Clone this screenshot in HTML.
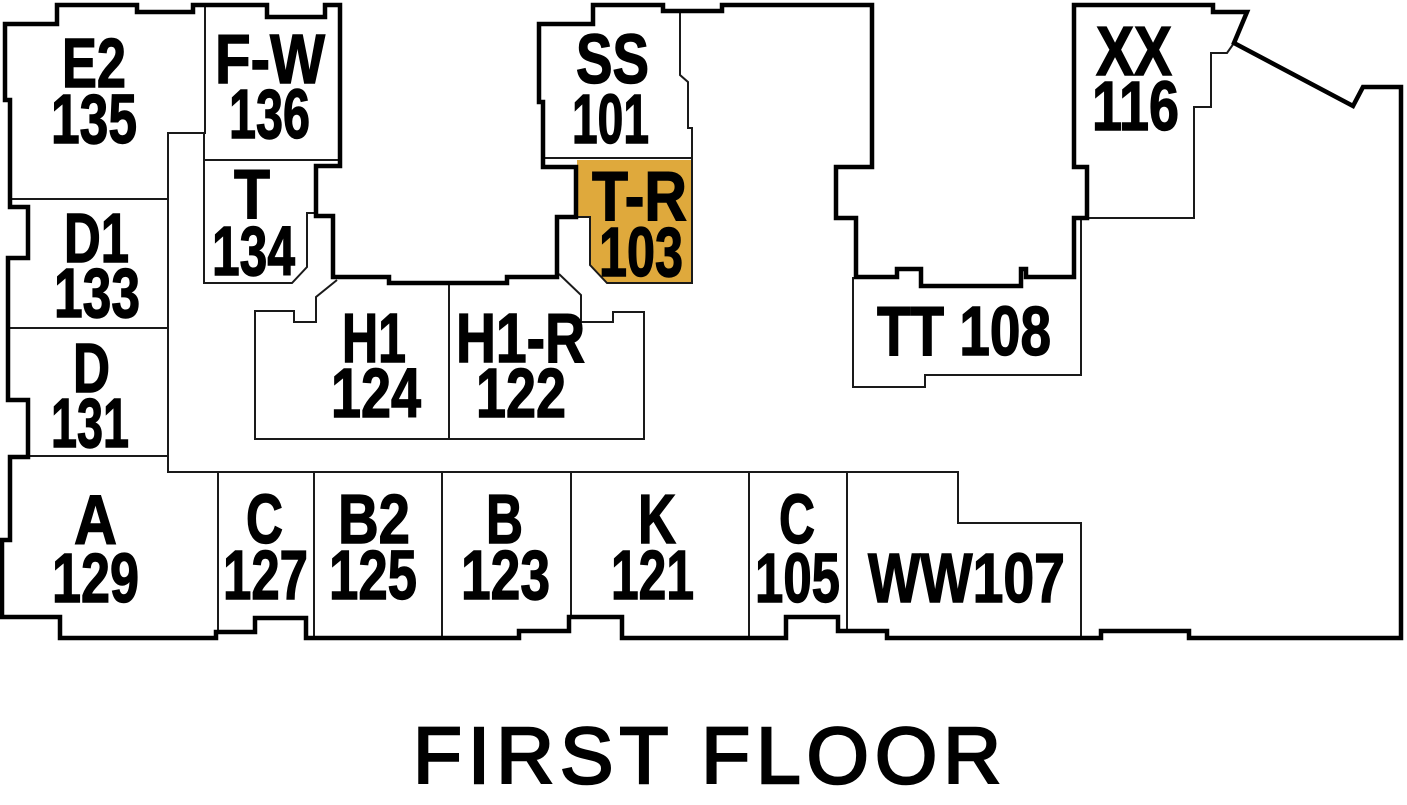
<!DOCTYPE html>
<html>
<head>
<meta charset="utf-8">
<style>
html,body{margin:0;padding:0;background:#fff;}
svg{display:block;}
.lb{font-family:"Liberation Sans",Arial,sans-serif;font-weight:bold;font-size:70px;fill:#000;stroke:#000;stroke-width:1.4px;}
.tt{font-family:"Liberation Sans",Arial,sans-serif;font-weight:normal;font-size:80px;fill:#000;stroke:#000;stroke-width:2.6px;}
</style>
</head>
<body>
<svg width="1407" height="805" viewBox="0 0 1407 805" xmlns="http://www.w3.org/2000/svg">
<rect width="1407" height="805" fill="#fff"/>

<!-- T-R highlighted unit -->
<polygon points="577,160 692,160 692,283 607,283 590,265 590,217 577,217" fill="#DFA93C"/>

<!-- thin interior lines -->
<g fill="none" stroke="#1a1a1a" stroke-width="2" stroke-linejoin="miter">
  <polyline points="205,5 205,133 168,133 168,472 958,472 958,523 1081,523 1081,638"/>
  <line x1="12" y1="199" x2="168" y2="199"/>
  <line x1="10" y1="328" x2="168" y2="328"/>
  <line x1="28" y1="456" x2="168" y2="456"/>
  <line x1="204" y1="160" x2="340" y2="160"/>
  <polyline points="204,133 204,283 292,283 307,267 307,213 316,213"/>
  <line x1="218" y1="472" x2="218" y2="632"/>
  <line x1="314" y1="472" x2="314" y2="638"/>
  <line x1="442" y1="472" x2="442" y2="638"/>
  <line x1="571" y1="472" x2="571" y2="617"/>
  <line x1="749" y1="472" x2="749" y2="638"/>
  <line x1="847" y1="472" x2="847" y2="631"/>
  <polyline points="337,280 316,297 316,322 294,322 294,311 255,311 255,439 644,439 644,312 613,312 613,322 581,322 581,295 559,274"/>
  <line x1="449" y1="283" x2="449" y2="439"/>
  <line x1="543" y1="158" x2="692" y2="158"/>
  <polyline points="680,11 680,75 688,82 688,128 692,128 692,283 607,283 590,265 590,217 577,217"/>
  <polyline points="853,277 853,387 925,387 925,375 1081,375 1081,218"/>
  <polyline points="1087,218 1194,218 1194,137 1194,137 1194,107 1211,107 1211,53 1227,53 1234,43"/>
</g>

<!-- thick outer outline -->
<path fill="none" stroke="#000" stroke-width="4.5" stroke-linejoin="miter"
 d="M57,5 L137,5 L137,12 L193,12 L193,5 L267,5 L267,17 L325,17 L325,5 L340,5 L340,166 L316,166 L316,216 L333,216 L333,277 L389,277 L389,283 L507,283 L507,277 L557,277 L557,217 L576,217 L576,167 L543,167 L543,102 L539,102 L539,24 L593,24 L593,5 L663,5 L663,11 L722,11 L722,5 L872,5 L872,167 L836,167 L836,218 L856,218 L856,277 L897,277 L897,269 L921,269 L921,286 L1021,286 L1021,269 L1026,269 L1026,277 L1074,277 L1074,218 L1087,218 L1087,167 L1074,167 L1074,5 L1213,5 L1213,12 L1247,12 L1234,43 L1353,106 L1363,87 L1401,87 L1401,638 L1189,638 L1189,631 L1101,631 L1101,638 L887,638 L887,631 L838,631 L838,617 L786,617 L786,638 L622,638 L622,617 L569,617 L569,631 L519,631 L519,638 L306,638 L306,618 L255,618 L255,632 L216,632 L216,638 L60,638 L60,617 L2,617 L2,540 L10,540 L10,457 L28,457 L28,400 L8,400 L8,258 L28,258 L28,207 L10,207 L10,100 L5,100 L5,24 L57,24 Z"/>

<!-- unit labels -->
<g class="lb">
  <text x="62" y="87" textLength="64" lengthAdjust="spacingAndGlyphs">E2</text>
  <text x="51" y="143" textLength="86" lengthAdjust="spacingAndGlyphs">135</text>
  <text x="215" y="83" textLength="110" lengthAdjust="spacingAndGlyphs">F-W</text>
  <text x="229" y="138" textLength="81" lengthAdjust="spacingAndGlyphs">136</text>
  <text x="234" y="218" textLength="36" lengthAdjust="spacingAndGlyphs">T</text>
  <text x="212" y="275" textLength="83" lengthAdjust="spacingAndGlyphs">134</text>
  <text x="64" y="262" textLength="65" lengthAdjust="spacingAndGlyphs">D1</text>
  <text x="54" y="317" textLength="86" lengthAdjust="spacingAndGlyphs">133</text>
  <text x="73" y="392" textLength="37" lengthAdjust="spacingAndGlyphs">D</text>
  <text x="51" y="447" textLength="78" lengthAdjust="spacingAndGlyphs">131</text>
  <text x="74" y="544" textLength="43" lengthAdjust="spacingAndGlyphs">A</text>
  <text x="52" y="602" textLength="87" lengthAdjust="spacingAndGlyphs">129</text>
  <text x="576" y="83" textLength="73" lengthAdjust="spacingAndGlyphs">SS</text>
  <text x="572" y="143" textLength="77" lengthAdjust="spacingAndGlyphs">101</text>
  <text x="592" y="220" textLength="95" lengthAdjust="spacingAndGlyphs">T-R</text>
  <text x="599" y="276" textLength="84" lengthAdjust="spacingAndGlyphs">103</text>
  <text x="1096" y="75" textLength="76" lengthAdjust="spacingAndGlyphs">XX</text>
  <text x="1092" y="130" textLength="87" lengthAdjust="spacingAndGlyphs">116</text>
  <text x="877" y="355" textLength="174" lengthAdjust="spacingAndGlyphs">TT 108</text>
  <text x="342" y="362" textLength="64" lengthAdjust="spacingAndGlyphs">H1</text>
  <text x="331" y="417" textLength="90" lengthAdjust="spacingAndGlyphs">124</text>
  <text x="456" y="362" textLength="129" lengthAdjust="spacingAndGlyphs">H1-R</text>
  <text x="476" y="417" textLength="90" lengthAdjust="spacingAndGlyphs">122</text>
  <text x="246" y="543" textLength="37" lengthAdjust="spacingAndGlyphs">C</text>
  <text x="223" y="599" textLength="85" lengthAdjust="spacingAndGlyphs">127</text>
  <text x="338" y="543" textLength="72" lengthAdjust="spacingAndGlyphs">B2</text>
  <text x="329" y="599" textLength="88" lengthAdjust="spacingAndGlyphs">125</text>
  <text x="486" y="543" textLength="37" lengthAdjust="spacingAndGlyphs">B</text>
  <text x="461" y="599" textLength="89" lengthAdjust="spacingAndGlyphs">123</text>
  <text x="638" y="543" textLength="38" lengthAdjust="spacingAndGlyphs">K</text>
  <text x="611" y="599" textLength="83" lengthAdjust="spacingAndGlyphs">121</text>
  <text x="779" y="543" textLength="36" lengthAdjust="spacingAndGlyphs">C</text>
  <text x="755" y="602" textLength="85" lengthAdjust="spacingAndGlyphs">105</text>
  <text x="868" y="602" textLength="197" lengthAdjust="spacingAndGlyphs">WW107</text>
</g>

<!-- title -->
<text class="tt" x="413" y="783" textLength="588" lengthAdjust="spacing">FIRST FLOOR</text>
</svg>
</body>
</html>
